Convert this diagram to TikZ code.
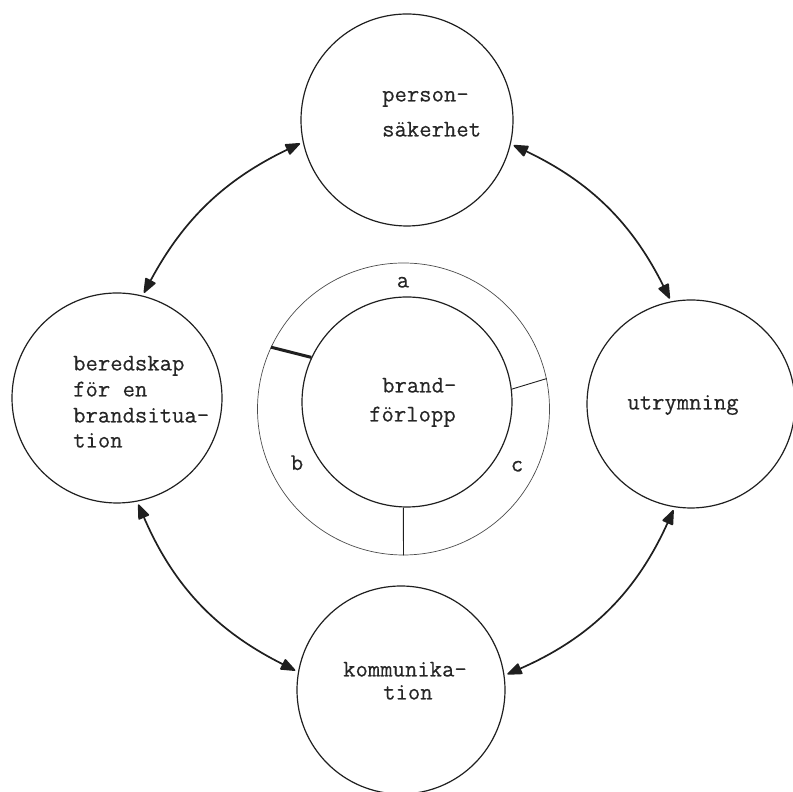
\documentclass[tikz,border=0pt]{standalone}
\usepackage{fontspec}
\newfontfamily\tw{Latin Modern Mono}[FakeBold=0.4]
\usetikzlibrary{arrows.meta}
\begin{document}
\begin{tikzpicture}[x=1pt,y=1pt,
  ink/.style={black!88},
  topic/.style={circle,draw=black!88,line width=1.2pt,inner sep=0pt},
  phase/.style={circle,draw=black!70,line width=0.7pt,inner sep=0pt},
  txt/.style={inner sep=0pt,anchor=base west,font=\tw\fontsize{24}{26}\selectfont,text=black!85},
  txtc/.style={inner sep=0pt,anchor=base,font=\tw\fontsize{24}{26}\selectfont,text=black!85},
  link/.style={draw=black!88,line width=1.7pt,
    {Triangle[length=16pt,width=12pt,round]}-{Triangle[length=16pt,width=12pt,round]},
    shorten <=3pt,shorten >=3pt}
]
\useasboundingbox (0,0) rectangle (793,792);

% four surrounding topics
\node[topic,minimum size=212pt] (pers) at (407,672) {};
\node[topic,minimum size=210pt] (bered) at (117,394) {};
\node[topic,minimum size=208pt] (utr) at (691,388) {};
\node[topic,minimum size=208pt] (komm) at (401,102) {};

% fire development in the middle, with its phase ring
\node[phase,minimum size=292pt] (ring) at (403.5,383) {};
\node[topic,minimum size=210pt] (core) at (407,390) {};

% phase boundaries
\draw[ink,line width=3pt] (core.155) -- (ring.155);
\draw[ink,line width=0.9pt] (core.7) -- (ring.12);
\draw[ink,line width=0.9pt] (core.268) -- (ring.270);

% labels
\node[txt] at (382,690.5) {person-};
\node[txt] at (382,655.5) {säkerhet};

\node[txt] at (73,421.5) {beredskap};
\node[txt] at (73,395.5) {för en};
\node[txt] at (73,369.5) {brandsitua-};
\node[txt] at (73,344.5) {tion};

\node[txtc] at (683,382.5) {utrymning};

\node[txt] at (343,115.5) {kommunika-};
\node[txt] at (383,92.5) {tion};

\node[txt] at (382,399.5) {brand-};
\node[txt] at (369,370.5) {förlopp};

\node[txtc] at (403,504.5) {a};
\node[txtc] at (297,322) {b};
\node[txtc] at (517,320.5) {c};

% two-way relations between the topics
\draw[link] (pers.192) to[bend right=18] (bered.76);
\draw[link] (bered.281) to[bend right=20] (komm.170);
\draw[link] (komm.8) to[bend right=21] (utr.261);
\draw[link] (utr.101) to[bend right=19] (pers.347);
\end{tikzpicture}
\end{document}
